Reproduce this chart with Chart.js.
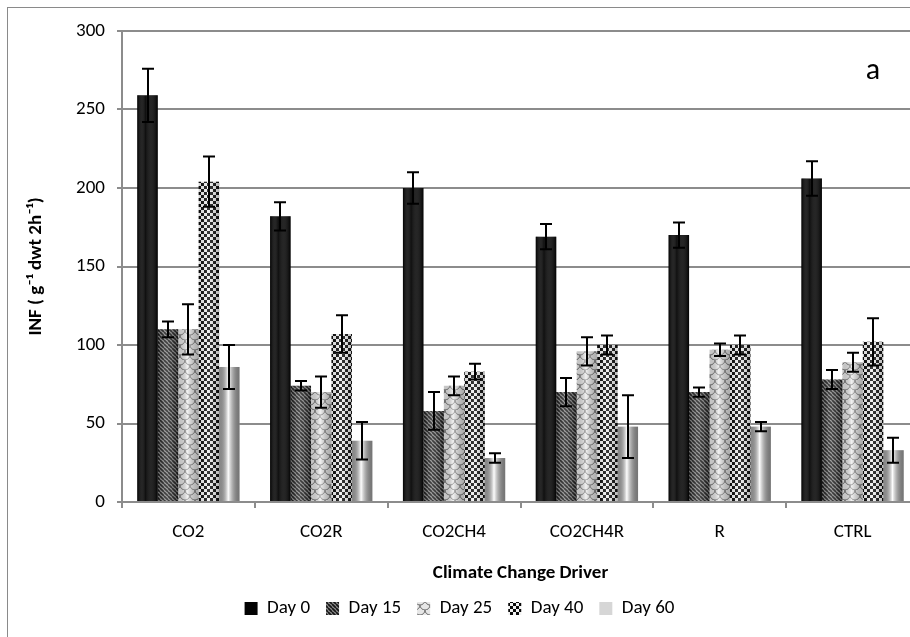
<!DOCTYPE html>
<html>
<head>
<meta charset="utf-8">
<script src="https://cdn.jsdelivr.net/npm/chart.js@4.4.1/dist/chart.umd.min.js"></script>
<style>
  html, body { margin: 0; padding: 0; background: #fff; overflow: hidden; }
  #wrap { position: relative; width: 925px; height: 637px; }
</style>
</head>
<body>
<div id="wrap"><canvas id="c"></canvas></div>
<script>
// Climate change drivers on the x axis
const categories = ['CO2', 'CO2R', 'CO2CH4', 'CO2CH4R', 'R', 'CTRL'];
const seriesNames = ['Day 0', 'Day 15', 'Day 25', 'Day 40', 'Day 60'];

// INF means per sampling day
const day0  = [259, 182, 200, 169, 170, 206];
const day15 = [110,  74,  58,  70,  70,  78];
const day25 = [110,  70,  74,  96,  97,  89];
const day40 = [204, 107,  83, 100, 100, 102];
const day60 = [ 86,  39,  28,  48,  48,  33];

// Error-bar half-lengths
const err0  = [17,  9, 10,  8,  8, 11];
const err15 = [ 5,  3, 12,  9,  3,  6];
const err25 = [16, 10,  6,  9,  4,  6];
const err40 = [16, 12,  5,  6,  6, 15];
const err60 = [14, 12,  3, 20,  3,  8];

const yMin = 0, yMax = 300, yStep = 50;

const FONT = 'Carlito, Calibri, Lato, sans-serif';

// ---- fill patterns for the bars ----
function tile(w, h, paint) {
  const c = document.createElement('canvas');
  c.width = w; c.height = h;
  const g = c.getContext('2d');
  paint(g, w, h);
  return g.createPattern(c, 'repeat');
}
const fillDay0 = '#030303';
const fillDay15 = tile(4, 4, g => {
  g.fillStyle = '#8e8e8e'; g.fillRect(0, 0, 4, 4);
  g.strokeStyle = '#151515'; g.lineWidth = 1.7;
  for (const k of [-4, 0, 4]) { g.beginPath(); g.moveTo(k, 0); g.lineTo(k + 4, 4); g.stroke(); }
});
const fillDay25 = tile(10, 10, g => {
  g.fillStyle = '#e6e6e6'; g.fillRect(0, 0, 10, 10);
  g.strokeStyle = '#666'; g.lineWidth = 1;
  for (const [cx, cy] of [[0, 0], [10, 0], [5, 5], [0, 10], [10, 10]]) {
    g.beginPath(); g.arc(cx, cy, 5, 0, Math.PI); g.stroke();
  }
});
const fillDay40 = tile(6, 6, g => {
  g.fillStyle = '#f2f2f2'; g.fillRect(0, 0, 6, 6);
  g.fillStyle = '#0a0a0a'; g.fillRect(0, 0, 3, 3); g.fillRect(3, 3, 3, 3);
});
const fillDay60 = '#d6d6d6';

// cylinder-like horizontal shading laid over each bar
const shading = [
  [[0, 'rgba(0,0,0,0.5)'], [0.4, 'rgba(255,255,255,0.05)'], [1, 'rgba(0,0,0,0.5)']],
  [[0, 'rgba(0,0,0,0.25)'], [0.4, 'rgba(255,255,255,0.2)'], [1, 'rgba(0,0,0,0.35)']],
  [[0, 'rgba(0,0,0,0.12)'], [0.45, 'rgba(255,255,255,0.45)'], [1, 'rgba(0,0,0,0.25)']],
  [[0, 'rgba(0,0,0,0.12)'], [0.45, 'rgba(255,255,255,0.2)'], [1, 'rgba(0,0,0,0.25)']],
  [[0, 'rgba(0,0,0,0.35)'], [0.45, 'rgba(255,255,255,0.95)'], [1, 'rgba(0,0,0,0.45)']]
];

const values = [day0, day15, day25, day40, day60];
const errors = [err0, err15, err25, err40, err60];
const fills = [fillDay0, fillDay15, fillDay25, fillDay40, fillDay60];

const datasets = seriesNames.map((name, i) => ({
  label: name,
  data: values[i],
  errors: errors[i],
  backgroundColor: fills[i],
  borderWidth: 0,
  categoryPercentage: 0.77,
  barPercentage: 1.0
}));

// white background and the outer frame
const frame = {
  id: 'frame',
  beforeDraw(chart) {
    const { ctx, width, height } = chart;
    ctx.save();
    ctx.fillStyle = '#fff';
    ctx.fillRect(0, 0, width, height);
    ctx.strokeStyle = '#8a8a8a';
    ctx.lineWidth = 1;
    ctx.strokeRect(7.5, 7.5, width + 40, height + 40);
    ctx.restore();
  }
};

// shading and error bars drawn over the bars
const errorBars = {
  id: 'errorBars',
  afterDatasetsDraw(chart) {
    const { ctx } = chart;
    const y = chart.scales.y;
    ctx.save();
    chart.data.datasets.forEach((ds, i) => {
      const meta = chart.getDatasetMeta(i);
      meta.data.forEach(bar => {
        const left = bar.x - bar.width / 2;
        const g = ctx.createLinearGradient(left, 0, left + bar.width, 0);
        shading[i].forEach(([o, c]) => g.addColorStop(o, c));
        ctx.fillStyle = g;
        ctx.fillRect(left, bar.y, bar.width, bar.base - bar.y);
      });
    });
    ctx.strokeStyle = '#000';
    ctx.lineWidth = 2;
    chart.data.datasets.forEach((ds, i) => {
      const meta = chart.getDatasetMeta(i);
      meta.data.forEach((bar, j) => {
        const v = ds.data[j], e = ds.errors[j];
        const top = y.getPixelForValue(v + e);
        const bot = y.getPixelForValue(v - e);
        const x = Math.round(bar.x);
        const hw = 6;
        ctx.beginPath();
        ctx.moveTo(x, top); ctx.lineTo(x, bot);
        ctx.moveTo(x - hw, top); ctx.lineTo(x + hw, top);
        ctx.moveTo(x - hw, bot); ctx.lineTo(x + hw, bot);
        ctx.stroke();
      });
    });
    ctx.restore();
  }
};

// panel letter
const panelTag = {
  id: 'panelTag',
  afterDraw(chart) {
    const { ctx, chartArea } = chart;
    ctx.save();
    ctx.fillStyle = '#000';
    ctx.font = '30px ' + FONT;
    ctx.textAlign = 'center';
    ctx.textBaseline = 'middle';
    ctx.fillText('a', chartArea.right - 46, chartArea.top + 40);
    ctx.restore();
  }
};

const GRID = '#8c8c8c';

new Chart(document.getElementById('c'), {
  type: 'bar',
  data: { labels: categories, datasets },
  options: {
    responsive: true,
    maintainAspectRatio: false,
    devicePixelRatio: 1,
    animation: false,
    layout: { padding: { left: 0, top: 31, right: 6, bottom: 9 } },
    plugins: {
      tooltip: { enabled: false },
      legend: {
        position: 'bottom',
        labels: {
          color: '#000',
          font: { family: FONT, size: 19 },
          boxWidth: 13,
          boxHeight: 13,
          padding: 16
        }
      }
    },
    scales: {
      x: {
        grid: { drawOnChartArea: false, drawTicks: true, tickLength: 6, color: GRID, lineWidth: 2 },
        border: { color: GRID, width: 2 },
        ticks: { color: '#000', font: { family: FONT, size: 19 }, padding: 13 },
        title: {
          display: true,
          text: 'Climate Change Driver',
          color: '#000',
          font: { family: FONT, size: 19, weight: 'bold', lineHeight: 1.0 },
          padding: { top: 0, bottom: 0 }
        },
        afterFit(scale) { scale.height = 81; }
      },
      y: {
        min: yMin,
        max: yMax,
        ticks: { stepSize: yStep, color: '#000', font: { family: FONT, size: 19 }, padding: 12 },
        grid: { color: GRID, lineWidth: 2, tickLength: 5 },
        border: { color: GRID, width: 2 },
        title: {
          display: true,
          text: 'INF ( g\u207B\u00B9 dwt 2h\u207B\u00B9)',
          color: '#000',
          font: { family: FONT, size: 19, weight: 'bold' },
          padding: { top: 25, bottom: 0 }
        },
        afterFit(scale) { scale.width = 122; }
      }
    }
  },
  plugins: [frame, errorBars, panelTag]
});
</script>
</body>
</html>
